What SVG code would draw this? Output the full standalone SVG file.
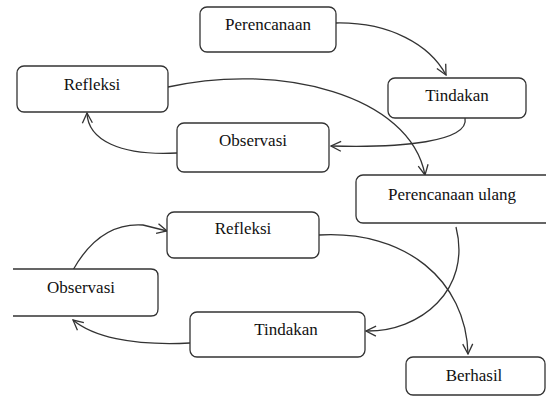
<svg xmlns="http://www.w3.org/2000/svg" width="546" height="396" viewBox="0 0 546 396">
<defs>
<marker id="arr" viewBox="0 0 12 12" refX="11" refY="6" markerWidth="12" markerHeight="12" markerUnits="userSpaceOnUse" orient="auto">
<path d="M1,1 L11,6 L1,11" fill="none" stroke="#333" stroke-width="1.3"/>
</marker>
<style>
.box{fill:#fff;stroke:#333;stroke-width:1.3}
.t{font-family:'Liberation Serif','Times New Roman',serif;font-size:17px;fill:#111;text-anchor:middle}
.c{fill:none;stroke:#333;stroke-width:1.3;marker-end:url(#arr)}
</style>
</defs>
<rect width="546" height="396" fill="#fff"/>
<g id="connectors">
<path class="c" d="M336,23 C390,22 430,45 446,75"/>
<path class="c" d="M465,118 C470,142 400,148 331,146"/>
<path class="c" d="M177,153 C120,156 88,140 87,113"/>
<path class="c" d="M168,87 C280,62 410,95 425,175"/>
<path class="c" d="M456,227 C472,290 420,332 366,331"/>
<path class="c" d="M190,343 C130,346 92,336 73,320"/>
<path class="c" d="M73,270 Q100,222 143,225 L167,231"/>
<path class="c" d="M319,235 C405,230 466,280 468,354"/>
</g>
<g id="n1"><rect class="box" x="200" y="7" width="136" height="45" rx="7"/><text class="t" x="268" y="30">Perencanaan</text></g>
<g id="n2"><rect class="box" x="17" y="66" width="151" height="46" rx="7"/><text class="t" x="92" y="90">Refleksi</text></g>
<g id="n3"><rect class="box" x="388" y="78" width="138" height="40" rx="7"/><text class="t" x="457" y="101">Tindakan</text></g>
<g id="n4"><rect class="box" x="177" y="123" width="152" height="49" rx="7"/><text class="t" x="253" y="146">Observasi</text></g>
<g id="n5"><rect class="box" x="356" y="175" width="200" height="48" rx="7"/><text class="t" x="452" y="200">Perencanaan ulang</text></g>
<g id="n6"><rect class="box" x="167" y="212" width="152" height="46" rx="7"/><text class="t" x="243" y="234">Refleksi</text></g>
<g id="n7"><path class="box" d="M13,269 H151 Q158,269 158,276 V309 Q158,316 151,316 H13"/><text class="t" x="81" y="293">Observasi</text></g>
<g id="n8"><rect class="box" x="190" y="312" width="175" height="45" rx="7"/><text class="t" x="286" y="335">Tindakan</text></g>
<g id="n9"><rect class="box" x="406" y="357" width="139" height="38" rx="7"/><text class="t" x="474" y="381">Berhasil</text></g>
</svg>
